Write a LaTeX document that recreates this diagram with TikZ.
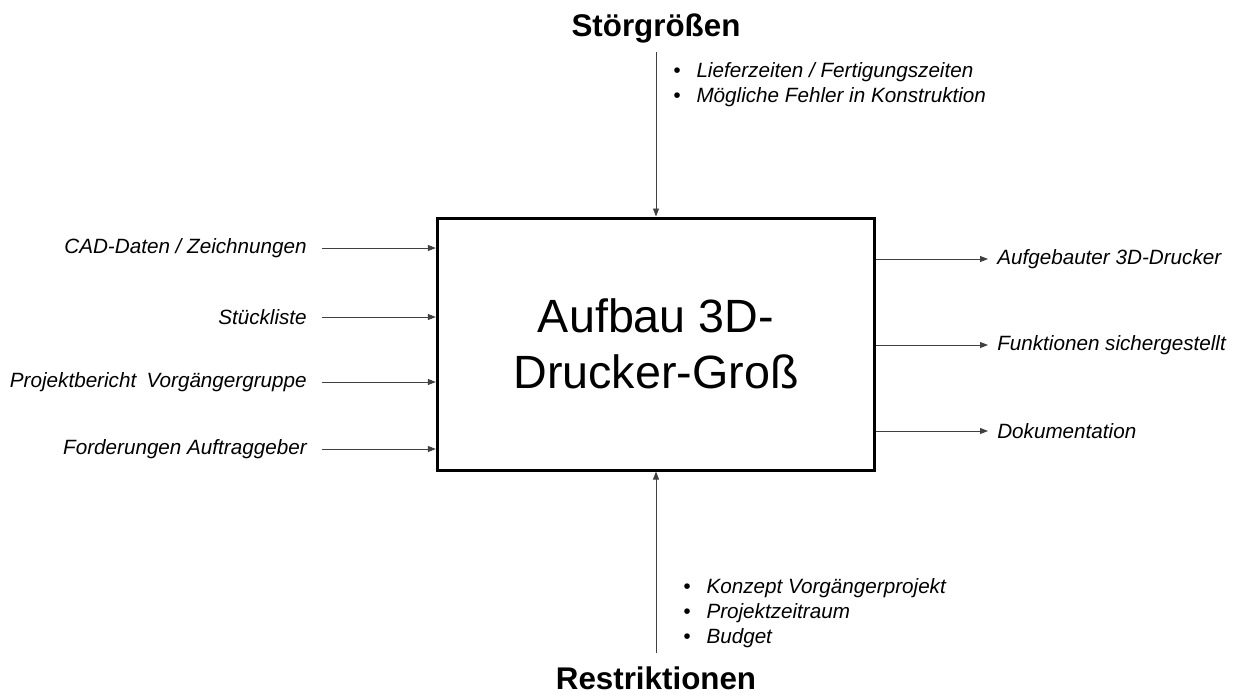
\documentclass[tikz,border=0pt]{standalone}
\usepackage{fontspec}
\setmainfont{Liberation Sans}
\usetikzlibrary{positioning,arrows.meta}

\begin{document}
\begin{tikzpicture}[x=0.75pt, y=-0.75pt, >={Triangle[length=6pt,width=4.5pt]}]
  \tikzset{
    mainbox/.style={draw=black,line width=2.25pt,minimum width=328pt,
                    minimum height=189pt,align=center,
                    font=\fontsize{35}{42}\selectfont},
    inlbl/.style={anchor=east,inner ysep=0pt,inner xsep=11.25pt,
                  font=\fontsize{15.5}{18.75}\selectfont\itshape},
    outlbl/.style={anchor=west,inner ysep=0pt,inner xsep=6.75pt,
                   font=\fontsize{15.5}{18.75}\selectfont\itshape},
    ttl/.style={anchor=base,inner sep=0pt,
                font=\fontsize{23.5}{28}\selectfont\bfseries},
    blist/.style={anchor=base west,inner sep=0pt,
                  font=\fontsize{15.5}{18.75}\selectfont\itshape},
    flow/.style={->,draw=black!75,line width=0.7pt}
  }
  \useasboundingbox (0,0) rectangle (1236,697);
  % Process box
  \node[mainbox] (box) at (656,344) {Aufbau 3D-\\Drucker-Groß};
  % Inputs
  \node[inlbl] (in1) at (322,248) {CAD-Daten / Zeichnungen};
  \node[inlbl] (in2) at (322,317) {Stückliste};
  \node[inlbl] (in3) at (322,382) {Projektbericht\hspace{0.5em}Vorgängergruppe};
  \node[inlbl] (in4) at (322,449) {Forderungen Auftraggeber};
  \foreach \i in {1,2,3,4}
    \draw[flow] (in\i.east) -- (in\i.east -| box.west);
  % Outputs
  \node[outlbl] (out1) at (988,259) {Aufgebauter 3D-Drucker};
  \node[outlbl] (out2) at (988,345) {Funktionen sichergestellt};
  \node[outlbl] (out3) at (988,431) {Dokumentation};
  \foreach \i in {1,2,3}
    \draw[flow] (out\i.west -| box.east) -- (out\i.west);
  % Disturbances
  \node[ttl] (stoer) at (656,36) {Störgrößen};
  \coordinate (stoerEnd) at (656,52);
  \draw[flow] (stoerEnd) -- (box.north);
  \node[blist] (stoerList) at (673,77) {%
    \begin{tabular}[t]{@{}l@{\hspace{12pt}}l@{}}
      \textbullet & Lieferzeiten / Fertigungszeiten\\
      \textbullet & Mögliche Fehler in Konstruktion
    \end{tabular}};
  % Restrictions
  \node[ttl] (restr) at (656,689) {Restriktionen};
  \coordinate (restrEnd) at (656,653);
  \draw[flow] (restrEnd) -- (box.south);
  \node[blist] (restrList) at (683,593) {%
    \begin{tabular}[t]{@{}l@{\hspace{12pt}}l@{}}
      \textbullet & Konzept Vorgängerprojekt\\
      \textbullet & Projektzeitraum\\
      \textbullet & Budget
    \end{tabular}};
\end{tikzpicture}
\end{document}
